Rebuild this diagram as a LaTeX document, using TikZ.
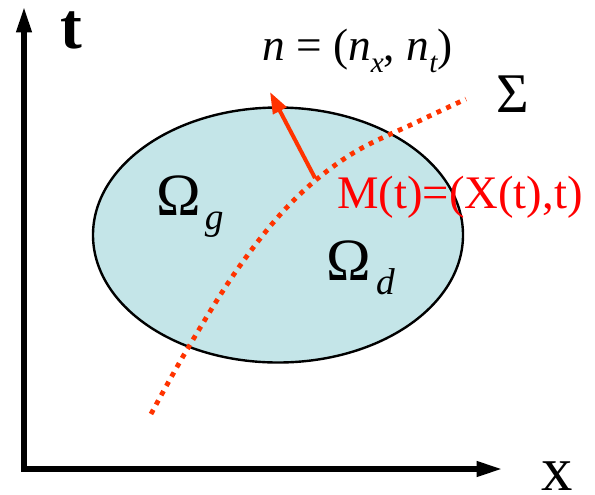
\documentclass[tikz,border=0pt]{standalone}
\usepackage{fontspec}
\setmainfont{Liberation Serif}
\usetikzlibrary{arrows.meta}
\definecolor{regionfill}{RGB}{196,229,232}
\definecolor{frontred}{RGB}{255,51,0}
\definecolor{labelred}{RGB}{255,0,0}
\newcommand{\lowsub}[2]{\raisebox{#1}{\fontsize{22}{22}\selectfont\itshape #2}}

\begin{document}
\begin{tikzpicture}[
  x=0.75pt, y=-0.75pt,
  axis/.style={line width=3.8pt, {Triangle[length=19pt, width=11pt]}-{Triangle[length=19pt, width=11pt]}},
  region/.style={draw=black, line width=1.8pt, fill=regionfill},
  interface/.style={draw=frontred, line width=3.6pt, dash pattern=on 3.6pt off 4.4pt},
  normalarrow/.style={-{Triangle[length=16pt, width=11pt]}, line width=3pt, draw=frontred, fill=frontred},
  lbl/.style={inner sep=0pt, anchor=base west}
]
\useasboundingbox (0,0) rectangle (595,494);

% ── Axes ──
\coordinate (origin) at (24,469);
\coordinate (ttip) at (24,7);
\coordinate (xtip) at (502,469);
\draw[axis] (ttip) -- (origin) -- (xtip);
\node[lbl, font=\fontsize{49}{49}\selectfont\bfseries] (tlabel) at (60,48) {t};
\node[lbl, font=\fontsize{47}{47}\selectfont] (xlabel) at (541,490) {x};

% ── Domain ──
\draw[region] (278,235) ellipse [x radius=185, y radius=127.5];
\node[lbl] (omegag) at (156,215)
  {\fontsize{45}{45}\selectfont Ω\hspace{3pt}\raisebox{-11pt}{\fontsize{28}{28}\selectfont\itshape g}};
\node[lbl] (omegad) at (326,280)
  {\fontsize{45}{45}\selectfont Ω\hspace{4pt}\raisebox{-11pt}{\fontsize{28}{28}\selectfont\itshape d}};

% ── Interface Sigma ──
\draw[interface] plot[smooth, tension=0.6] coordinates
  {(151,414) (188,348) (239,267) (292,202) (350,155) (417,122) (466,99)};
\node[lbl, font=\fontsize{42}{42}\selectfont] (sigma) at (496,112) {Σ};

% ── Normal at M ──
\coordinate (M) at (315,178);
\coordinate (ntip) at (270,92);
\draw[normalarrow] (M) -- (ntip);
\node[lbl, font=\fontsize{35}{35}\selectfont, text=labelred] (mlabel) at (337,208) {M(t)=(X(t),t)};
\node[lbl, font=\fontsize{34}{34}\selectfont] (nlabel) at (262,60)
  {\textit{n} = (\textit{n}\lowsub{-9pt}{x}, \textit{n}\lowsub{-9pt}{t})};

\end{tikzpicture}
\end{document}
